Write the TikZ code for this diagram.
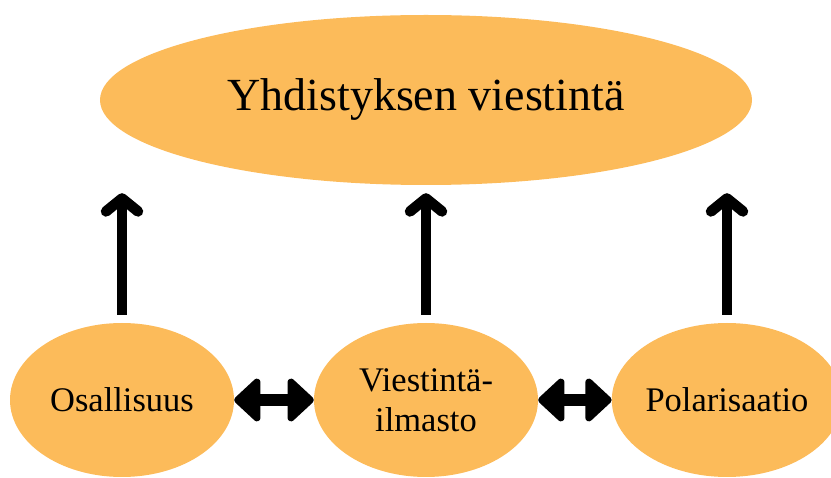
\documentclass[tikz,border=0pt]{standalone}
\usepackage{fontspec}
\setmainfont{Liberation Serif}
\usetikzlibrary{shapes.geometric,arrows.meta}
\definecolor{orng}{HTML}{FCBB5A}
\begin{document}
\begin{tikzpicture}[x=1pt,y=-1pt,
  blob/.style={ellipse,fill=orng,draw=none,inner sep=0pt,minimum width=224pt,minimum height=154pt,align=center,font=\fontsize{34.5}{40}\selectfont},
  bigblob/.style={ellipse,fill=orng,draw=none,inner sep=0pt,minimum width=652pt,minimum height=170pt,font=\fontsize{46}{52}\selectfont},
  uparrow/.style={line width=10.5pt,-{Straight Barb[round,length=13pt,width=32pt]},shorten <=8pt,shorten >=8pt},
  dblarrow/.style={line width=12pt,{Triangle[round,length=28pt,width=50pt]}-{Triangle[round,length=28pt,width=50pt]},shorten <=0pt,shorten >=0pt}
]
\useasboundingbox (0,0) rectangle (831,478);
\node[bigblob] (top) at (426,100) {Yhdistyksen viestintä};
\node[blob] (osa) at (122,400) {Osallisuus};
\node[blob] (vie) at (426,400) {Viestintä-\\ilmasto};
\node[blob] (pol) at (727,400) {Polarisaatio};
\draw[uparrow] (osa.north) -- (osa.north |- top.south);
\draw[uparrow] (vie.north) -- (vie.north |- top.south);
\draw[uparrow] (pol.north) -- (pol.north |- top.south);
\draw[dblarrow] (osa.east) -- (vie.west);
\draw[dblarrow] (vie.east) -- (pol.west);
\end{tikzpicture}
\end{document}
